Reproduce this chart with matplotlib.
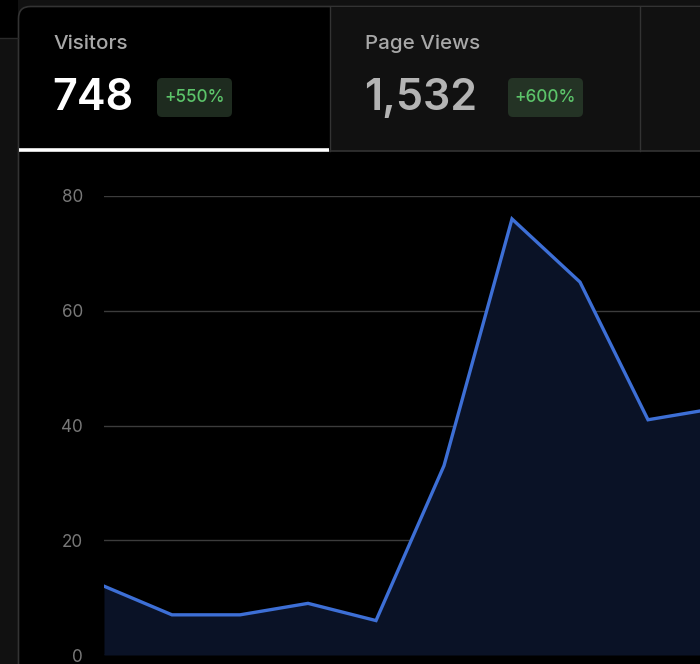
import numpy as np
import matplotlib.pyplot as plt
from matplotlib.patches import FancyBboxPatch, Rectangle

# visitors per time slot
slots = np.arange(10)
visitors = [12, 7, 7, 9, 6, 33, 76, 65, 41, 43]
yticks = [0, 20, 40, 60, 80]

tab_labels = ['Visitors', 'Page Views']
tab_values = ['748', '1,532']
tab_changes = ['+550%', '+600%']

plt.rcParams['font.family'] = ['Inter', 'DejaVu Sans']

fig = plt.figure(figsize=(7.0, 6.64), dpi=100)
fig.patch.set_facecolor('#111111')

# pixel-space layer for the card and tabs
bg = fig.add_axes([0, 0, 1, 1])
bg.set_xlim(0, 700)
bg.set_ylim(664, 0)
bg.axis('off')

bg.add_patch(Rectangle((0, 0), 18, 38, facecolor='#000000', edgecolor='none'))
bg.plot([0, 18], [38, 38], color='#2a2a2a', lw=1)

# card body
card = FancyBboxPatch((18.5, 6.5), 720, 700, boxstyle='round,pad=0,rounding_size=12',
                      facecolor='#000000', edgecolor='#333333', lw=1.2)
bg.add_patch(card)
# inactive tabs
bg.add_patch(Rectangle((330, 7), 400, 144, facecolor='#111111', edgecolor='none'))
bg.plot([330, 330], [7, 151], color='#333333', lw=1)
bg.plot([640, 640], [7, 151], color='#333333', lw=1)
bg.plot([330, 700], [151, 151], color='#333333', lw=1.2)
bg.plot([19, 329], [149.5, 149.5], color='#ffffff', lw=2.6, solid_capstyle='butt')

tab_x = [53, 365]
val_colors = ['#ffffff', '#b4b4b4']
badge_x = [157, 508]
for i in range(2):
    bg.text(tab_x[i], 44, tab_labels[i], color='#a8a8a8', fontsize=14.8,
            fontweight='medium', ha='left', va='center')
    bg.text(tab_x[i] - 1, 98, tab_values[i], color=val_colors[i], fontsize=31,
            fontweight='semibold', ha='left', va='center')
    bg.add_patch(FancyBboxPatch((badge_x[i], 78), 75, 39,
                                boxstyle='round,pad=0,rounding_size=5',
                                facecolor='#1e2b1f' if i == 0 else '#243325',
                                edgecolor='none'))
    bg.text(badge_x[i] + 37.5, 98, tab_changes[i], color='#5cc46a', fontsize=12.3,
            fontweight='medium', ha='center', va='center')

# chart
ax = fig.add_axes([104 / 700, 9 / 664, 596 / 700, 459 / 664])
ax.set_facecolor('none')
ax.fill_between(slots, visitors, 0, color='#0a1226', lw=0)
ax.plot(slots, visitors, color='#3d6fd6', lw=2.4, solid_joinstyle='miter')
ax.set_xlim(0, 596 / 68)
ax.set_ylim(0, 80)
ax.set_yticks(yticks)
ax.set_xticks([])
for y in yticks:
    ax.axhline(y, color='#3c3c3c', lw=1, zorder=0)
ax.tick_params(axis='y', length=0, pad=15, labelsize=12.3, labelcolor='#787878')
for s in ax.spines.values():
    s.set_visible(False)

fig.savefig('out.png', dpi=100, facecolor=fig.get_facecolor())
plt.close(fig)
